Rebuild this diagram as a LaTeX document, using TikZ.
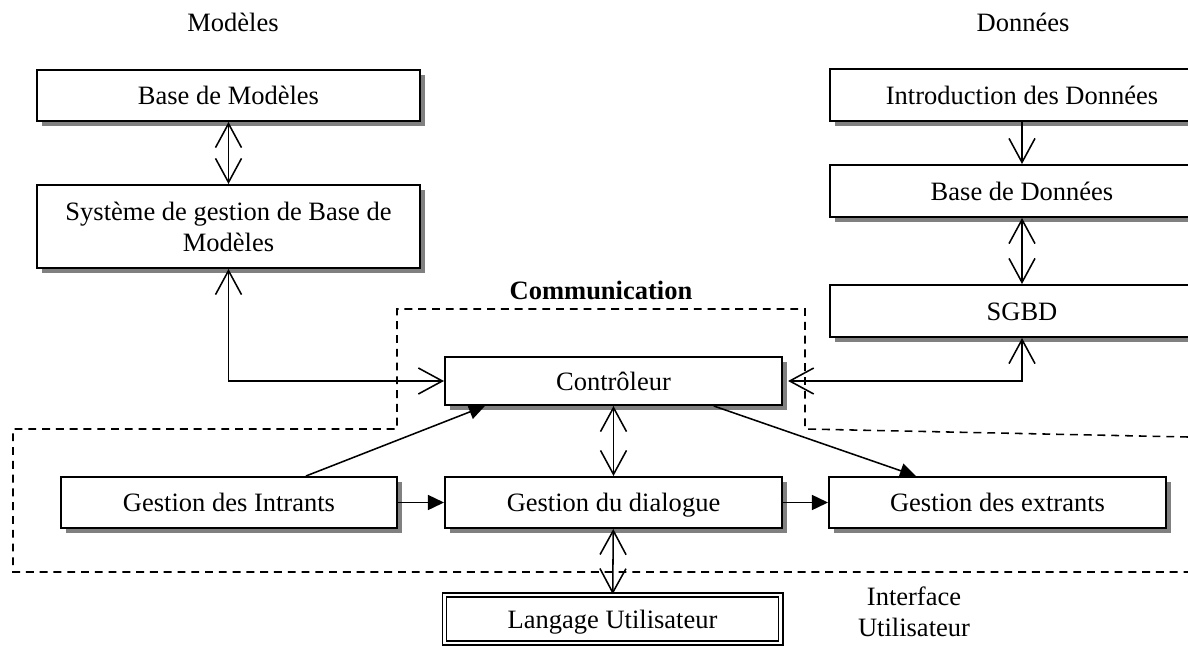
\documentclass[tikz,border=0pt]{standalone}
\usepackage{fontspec}
\setmainfont{Liberation Serif}
\usetikzlibrary{arrows.meta,shadows}

\tikzset{
  barbe/.tip={Straight Barb[length=0.6cm,width=0.65cm]},
  plein/.tip={Triangle[length=0.4cm,width=0.375cm]},
  boite/.style={draw, line width=1.4pt, fill=white, inner sep=2pt,
    minimum width=8.425cm, minimum height=1.275cm, text height=15pt, text depth=1.5pt,
    drop shadow={shadow xshift=3.6pt, shadow yshift=-3.6pt, fill=black!50, opacity=1}},
  lien/.style={line width=1.1pt},
  zone/.style={line width=1.1pt, dash pattern=on 5.6pt off 4.2pt}
}

\begin{document}
\begin{tikzpicture}[x=0.025cm, y=-0.025cm, font=\fontsize{18.85}{22}\selectfont]
    \useasboundingbox (0,0) rectangle (1188,657);
    \clip (0,0) rectangle (1188,657);

    % zone de communication
    \draw[zone] (1188,437) -- (805,429) -- (805,309) -- (397,309) -- (397,429)
        -- (13,429) -- (13,572) -- (1188,572);

    \node (tmod) at (233,22) {Modèles};
    \node (tdon) at (1023,22) {Données};
    \node[font=\fontsize{18.85}{22}\selectfont\bfseries] (tcom) at (601,290) {Communication};
    \node[align=center] (tint) at (914,612) {Interface\\Utilisateur};

    \node[boite, minimum width=9.575cm] (bm) at (228.5,95.5) {Base de Modèles};
    \node[boite, minimum width=9.575cm, minimum height=2.075cm, align=center,
        text height=, text depth=] (sgbm) at (228.5,226.5)
        {Système de gestion de Base de\\Modèles};

    \node[boite, minimum width=9.6cm, minimum height=1.3cm] (intro) at (1022,95) {Introduction des Données};
    \node[boite, minimum width=9.6cm, minimum height=1.3cm] (bd) at (1022,191) {Base de Données};
    \node[boite, minimum width=9.6cm, minimum height=1.3cm] (sgbd) at (1022,311) {SGBD};

    \node[boite, minimum height=1.2cm] (ctrl) at (613.5,381) {Contrôleur};
    \node[boite, minimum width=8.4cm] (gi) at (229,502.5) {Gestion des Intrants};
    \node[boite] (gd) at (613.5,502.5) {Gestion du dialogue};
    \node[boite] (ge) at (997.5,502.5) {Gestion des extrants};

    \node[draw, double, line width=1.1pt, double distance=2pt, minimum width=8.4cm, minimum height=1.2cm,
        text height=15pt, text depth=1.5pt] (lu) at (612.5,619) {Langage Utilisateur};

    \draw[lien, barbe-barbe] (bm) -- (sgbm);
    \draw[lien, -barbe] (intro) -- (bd);
    \draw[lien, barbe-barbe] (bd) -- (sgbd);
    \draw[lien, barbe-barbe] (sgbm.south) |- (ctrl.west);
    \draw[lien, barbe-barbe] (sgbd.south) |- ([xshift=3.6pt]ctrl.east);
    \draw[lien, barbe-barbe] (ctrl) -- (gd);
    \draw[lien, barbe-barbe] (gd) -- (lu);
    \draw[lien, -plein] (gi) -- (gd);
    \draw[lien, -plein] (gd) -- (ge);
    \draw[lien, -plein] (gi.19) -- (ctrl.191);
    \draw[lien, -plein] (ctrl.-14) -- (ge.162);
\end{tikzpicture}
\end{document}
